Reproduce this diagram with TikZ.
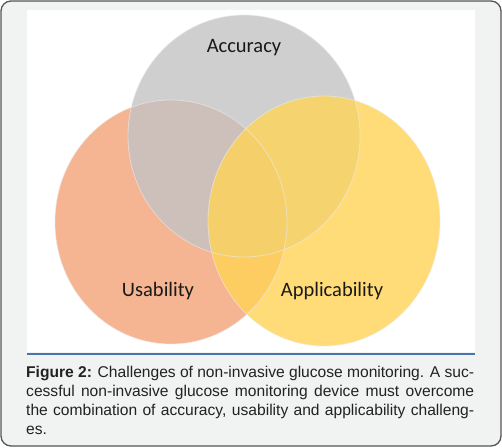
\documentclass[tikz,border=0pt]{standalone}
\usepackage{fontspec}
\setmainfont{Liberation Sans}
\newfontfamily\labelfont{Carlito}
\definecolor{bgray}{HTML}{F1F2F2}
\definecolor{frame}{HTML}{555555}
\definecolor{rule}{HTML}{4A74B0}
\definecolor{accgray}{HTML}{C4C4C4}
\definecolor{usaorange}{HTML}{F4A77F}
\definecolor{appyellow}{HTML}{FFD457}
\definecolor{captext}{HTML}{222222}
\begin{document}
\begin{tikzpicture}[x=1pt,y=-1pt,
  venn/.style={draw=white!85!gray, line width=0.8pt},
  vlabel/.style={font=\labelfont\fontsize{20.5}{24}\selectfont, text=black!90},
]
\useasboundingbox (0,0) rectangle (502,447);
\draw[fill=bgray, draw=frame, line width=1.3pt, rounded corners=10pt] (1,1) rectangle (501,446);
\fill[white] (27,10) rectangle (475,352);
\draw[rule, line width=2pt] (27,354) -- (475,354);
\begin{scope}
\clip (27,10) rectangle (475,352);
\fill[usaorange, fill opacity=0.85] (171,222) ellipse (116pt and 122pt);
\fill[accgray, fill opacity=0.8] (244,136) ellipse (116pt and 121pt);
\fill[appyellow, fill opacity=0.8] (324,221) ellipse (116pt and 125pt);
\draw[venn, draw opacity=0.6] (171,222) ellipse (116pt and 122pt);
\draw[venn, draw opacity=0.6] (244,136) ellipse (116pt and 121pt);
\draw[venn, draw opacity=0.6] (324,221) ellipse (116pt and 125pt);
\end{scope}
\node[vlabel] (acc) at (244,48) {Accuracy};
\node[vlabel] (usa) at (158,291) {Usability};
\node[vlabel] (app) at (332,291) {Applicability};
\node[anchor=north west, inner sep=0pt, text width=448pt, align=justify,
  font=\fontsize{15.6}{19}\selectfont, text=captext] (cap) at (26,366)
  {\textbf{Figure 2:} Challenges of non-invasive glucose monitoring. A suc-\linebreak
   cessful non-invasive glucose monitoring device must overcome\linebreak
   the combination of accuracy, usability and applicability challeng-\linebreak
   es.};
\end{tikzpicture}
\end{document}
